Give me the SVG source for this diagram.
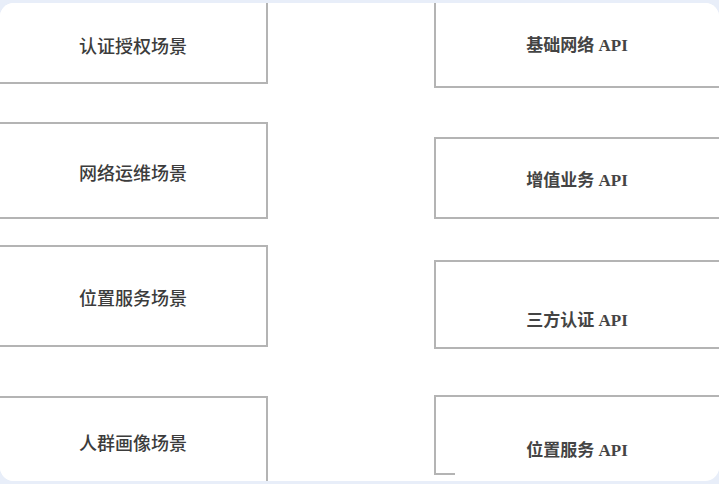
<svg xmlns="http://www.w3.org/2000/svg" width="719" height="484" viewBox="0 0 719 484">
<style>
.box{fill:#ffffff;stroke:#b4b4b4;stroke-width:2}
.ls{font-family:"Noto Sans CJK SC","Noto Sans",sans-serif;font-size:18px;fill:#3c3c3c;text-anchor:middle;dominant-baseline:central;font-weight:500}
.rs{font-family:"Liberation Serif","Noto Sans CJK SC",serif;font-size:17px;fill:#444444;text-anchor:middle;dominant-baseline:central;font-weight:bold}
</style>
<defs>
<clipPath id="panel"><rect x="0" y="3" width="719" height="478" rx="14"/></clipPath>
</defs>
<rect x="0" y="0" width="719" height="484" fill="#e8eef9"/>
<rect x="0" y="3" width="719" height="478" rx="14" fill="#ffffff"/>
<g clip-path="url(#panel)">
<g id="n-auth"><rect class="box" x="-3" y="-2" width="270" height="85"/><text class="ls" x="133" y="45">认证授权场景</text></g>
<g id="n-ops"><rect class="box" x="-3" y="123" width="270" height="95"/><text class="ls" x="133" y="172">网络运维场景</text></g>
<g id="n-loc"><rect class="box" x="-3" y="246" width="270" height="100"/><text class="ls" x="133" y="297">位置服务场景</text></g>
<g id="n-crowd"><rect class="box" x="-3" y="397" width="270" height="100"/><text class="ls" x="133" y="442">人群画像场景</text></g>
<g id="n-basic"><rect class="box" x="435" y="-2" width="300" height="89"/><text class="rs" x="577" y="45">基础网络 API</text></g>
<g id="n-vas"><rect class="box" x="435" y="138" width="300" height="80"/><text class="rs" x="577" y="180">增值业务 API</text></g>
<g id="n-third"><rect class="box" x="435" y="261" width="300" height="87"/><text class="rs" x="577" y="320">三方认证 API</text></g>
<g id="n-locapi"><rect x="435" y="396" width="300" height="78" fill="#ffffff"/><path d="M455,474 H435 V396 H735" fill="none" stroke="#b4b4b4" stroke-width="2"/><text class="rs" x="577" y="450">位置服务 API</text></g>
<g id="connectors"></g>
</g>
</svg>
